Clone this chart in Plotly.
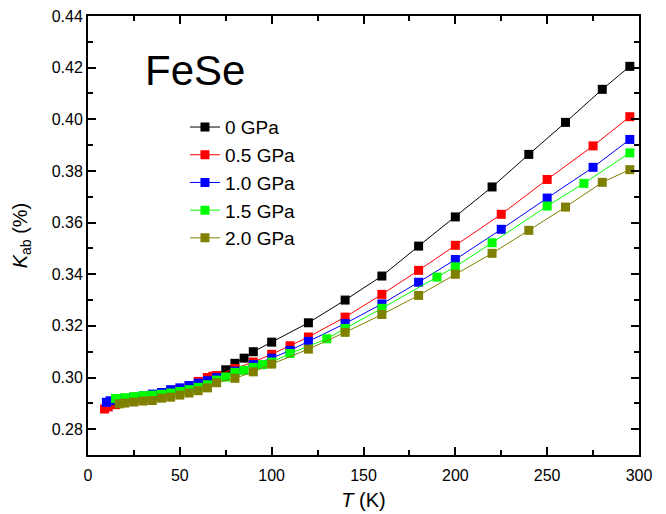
import plotly.graph_objects as go

# Temperature (K) and in-plane K_ab (%) for each pressure
t_0 = [75, 80, 85, 90, 100, 120, 140, 160, 180, 200, 220, 240, 260, 280, 295]
k_0 = [0.3030, 0.3055, 0.3075, 0.3100, 0.3137, 0.3212, 0.3300, 0.3393, 0.3509,
       0.3622, 0.3738, 0.3864, 0.3988, 0.4116, 0.4205]

t_05 = [9, 11, 15, 20, 25, 30, 35, 40, 45, 50, 55, 60, 65, 68, 70, 80, 90, 100,
        110, 120, 140, 160, 180, 200, 225, 250, 275, 295]
k_05 = [0.2878, 0.2886, 0.2895, 0.2905, 0.2912, 0.2920, 0.2928, 0.2936, 0.2945,
        0.2955, 0.2967, 0.2985, 0.3000, 0.3005, 0.3008, 0.3035, 0.3060, 0.3090,
        0.3123, 0.3157, 0.3234, 0.3322, 0.3415, 0.3512, 0.3632, 0.3767, 0.3897,
        0.4010]

t_10 = [10, 12, 15, 20, 25, 30, 35, 40, 45, 50, 55, 60, 65, 70, 80, 90, 100,
        110, 120, 140, 160, 180, 200, 225, 250, 275, 295]
k_10 = [0.2904, 0.2910, 0.2914, 0.2919, 0.2924, 0.2929, 0.2936, 0.2942, 0.2953,
        0.2960, 0.2969, 0.2978, 0.2988, 0.3000, 0.3025, 0.3050, 0.3075, 0.3105,
        0.3140, 0.3209, 0.3285, 0.3369, 0.3457, 0.3574, 0.3695, 0.3814, 0.3922]

t_15 = [15, 20, 25, 30, 35, 40, 45, 50, 55, 60, 65, 70, 75, 80, 85, 90, 95, 100,
        110, 130, 140, 160, 190, 200, 220, 250, 270, 295]
k_15 = [0.2919, 0.2922, 0.2926, 0.2930, 0.2932, 0.2935, 0.2940, 0.2946, 0.2953,
        0.2962, 0.2972, 0.2990, 0.3002, 0.3020, 0.3028, 0.3039, 0.3050, 0.3060,
        0.3093, 0.3150, 0.3190, 0.3268, 0.3389, 0.3429, 0.3522, 0.3664, 0.3752,
        0.3870]

t_20 = [17, 20, 25, 30, 35, 40, 45, 50, 55, 60, 65, 70, 80, 90, 100, 120, 140,
        160, 180, 200, 220, 240, 260, 280, 295]
k_20 = [0.2898, 0.2901, 0.2905, 0.2909, 0.2911, 0.2920, 0.2924, 0.2932, 0.2940,
        0.2949, 0.2960, 0.2980, 0.2997, 0.3022, 0.3052, 0.3110, 0.3175, 0.3244,
        0.3318, 0.3400, 0.3481, 0.3570, 0.3660, 0.3756, 0.3805]

series = [
    ("0 GPa", t_0, k_0, "#000000"),
    ("0.5 GPa", t_05, k_05, "#ff0000"),
    ("1.0 GPa", t_10, k_10, "#0000ff"),
    ("1.5 GPa", t_15, k_15, "#00ff00"),
    ("2.0 GPa", t_20, k_20, "#808000"),
]

FONT = "Arial, 'Liberation Sans', sans-serif"

fig = go.Figure()
for name, t, k, color in series:
    fig.add_trace(go.Scatter(
        x=t, y=k, name=name, mode="lines+markers",
        line=dict(color=color, width=1),
        marker=dict(symbol="square", size=9, color=color, line=dict(width=0)),
    ))

axis_common = dict(
    showline=True, linecolor="black", linewidth=2, mirror="ticks",
    ticks="inside", ticklen=8, tickwidth=2, tickcolor="black",
    showgrid=False, zeroline=False, automargin=False,
    tickfont=dict(family=FONT, size=16, color="black"),
)

fig.update_xaxes(
    range=[0, 300], tickvals=[0, 50, 100, 150, 200, 250, 300],
    ticklabelstandoff=5,
    minor=dict(ticks="inside", ticklen=5, tickwidth=2, tickcolor="black",
               dtick=25, tick0=0),
    title=dict(text="<i>T</i> (K)", font=dict(family=FONT, size=20, color="black"),
               standoff=10),
    **axis_common,
)
fig.update_yaxes(
    range=[0.27, 0.44], tickvals=[0.28, 0.30, 0.32, 0.34, 0.36, 0.38, 0.40, 0.42, 0.44],
    tickformat=".2f",
    minor=dict(ticks="inside", ticklen=5, tickwidth=2, tickcolor="black",
               dtick=0.01, tick0=0.27),
    title=dict(text="<i>K</i><sub>ab</sub> (%)",
               font=dict(family=FONT, size=20, color="black"), standoff=19),
    **axis_common,
)

fig.add_annotation(
    text="FeSe", xref="paper", yref="paper", x=0.1, y=0.875,
    xanchor="left", yanchor="middle", showarrow=False,
    font=dict(family=FONT, size=42, color="black"),
)

fig.update_layout(
    width=666, height=514,
    margin=dict(l=88, r=27, t=16, b=59),
    paper_bgcolor="white", plot_bgcolor="white",
    showlegend=True,
    legend=dict(
        x=0.176, y=0.79, xanchor="left", yanchor="top",
        bgcolor="rgba(0,0,0,0)", borderwidth=0,
        font=dict(family=FONT, size=19, color="black"),
        tracegroupgap=0,
    ),
)

fig.write_html("out.html")
